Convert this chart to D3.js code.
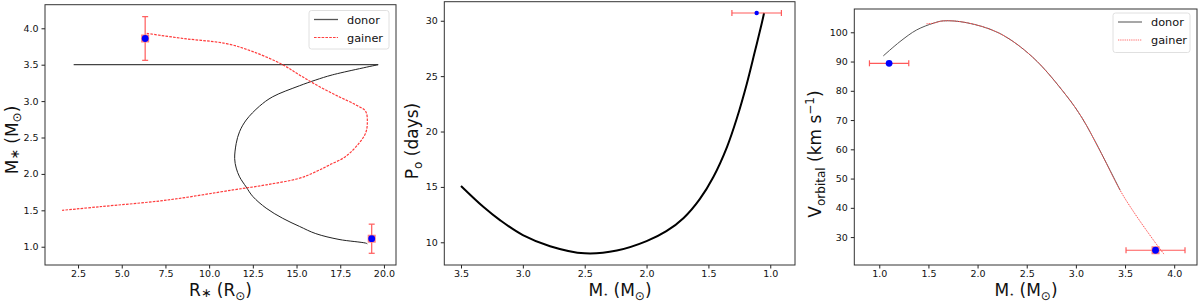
<!DOCTYPE html>
<html>
<head>
<meta charset="utf-8">
<script src="https://cdn.jsdelivr.net/npm/d3@7"></script>
<style>
  body { margin: 0; background: #fff; }
  svg text { font-family: "DejaVu Sans", sans-serif; fill: #111; }
</style>
</head>
<body>
<div id="chart"></div>
<script>
// ---- panel 1 : mass vs radius
var donorFlatR = [2.25, 19.67];
var donorFlatM = [3.5, 3.5];
var donorR = [19.67, 17.05, 16.1, 15.16, 13.64, 12.88, 12.12, 11.74, 11.55, 11.46, 11.55, 11.74, 12.12, 12.5, 13.26, 14.21, 15.16, 16.1, 17.43, 18.95, 19.05];
var donorM = [3.5, 3.36, 3.29, 3.21, 3.06, 2.93, 2.74, 2.58, 2.42, 2.21, 2.08, 1.96, 1.82, 1.69, 1.53, 1.39, 1.28, 1.18, 1.10, 1.05, 1.04];
var gainerR = [6.43, 8.52, 10.98, 12.5, 14.21, 15.16, 16.3, 17.43, 18.38, 18.95, 19.05, 18.95, 18.57, 17.81, 16.86, 16.1, 15.16, 13.26, 11.36, 7.57, 3.77, 1.59];
var gainerM = [3.93, 3.86, 3.79, 3.68, 3.50, 3.36, 3.20, 3.06, 2.95, 2.86, 2.70, 2.56, 2.42, 2.24, 2.12, 2.03, 1.94, 1.85, 1.78, 1.64, 1.55, 1.50];
var obsR = [6.34, 19.3];
var obsM = [3.86, 1.11];
var obsMerr = [0.3, 0.2];
var p1xTicks = [2.5, 5.0, 7.5, 10.0, 12.5, 15.0, 17.5, 20.0];
var p1yTicks = [1.0, 1.5, 2.0, 2.5, 3.0, 3.5, 4.0];

// ---- panel 2 : orbital period vs donor mass
var periodM = [3.5, 3.32, 3.185, 3.0, 2.78, 2.5, 2.24, 2.0, 1.84, 1.70, 1.57, 1.46, 1.35, 1.27, 1.19, 1.125, 1.07, 1.05];
var periodP = [15.08, 13.2, 12.0, 10.65, 9.65, 9.0, 9.25, 10.1, 11.0, 12.2, 13.9, 15.9, 18.6, 21.2, 24.3, 27.2, 29.7, 30.7];
var obsPM = [1.11];
var obsP = [30.7];
var obsPMerr = [0.2];
var p2xTicks = [3.5, 3.0, 2.5, 2.0, 1.5, 1.0];
var p2yTicks = [10, 15, 20, 25, 30];

// ---- panel 3 : orbital velocity vs mass
var velDonorM = [1.04, 1.21, 1.38, 1.55, 1.65, 1.885, 2.22, 2.56, 2.90, 3.065, 3.23, 3.45];
var velDonorV = [91.9, 96.8, 100.8, 103.1, 103.9, 103.3, 99.7, 91.5, 78.5, 70.6, 60.5, 46.0];
var velGainerM = [1.48, 1.55, 1.65, 1.885, 2.22, 2.56, 2.90, 3.065, 3.23, 3.45, 3.59, 3.81, 3.90];
var velGainerV = [102.9, 103.1, 103.9, 103.3, 99.7, 91.5, 78.5, 70.6, 60.5, 46.0, 38.5, 28.0, 24.0];
var obsVM = [1.10, 3.81];
var obsV = [89.4, 25.5];
var obsVMerr = [0.2, 0.3];
var p3xTicks = [1.0, 1.5, 2.0, 2.5, 3.0, 3.5, 4.0];
var p3yTicks = [30, 40, 50, 60, 70, 80, 90, 100];

var width = 1200, height = 302;
var svg = d3.select("#chart").append("svg")
    .attr("width", width).attr("height", height)
    .style("background", "#fff");

// builds the frame, axes and returns scales
function makePanel(box, xDom, yDom, xTicks, yTicks, xFmt, yFmt) {
    var x = d3.scaleLinear().domain(xDom).range([box.left, box.right]);
    var y = d3.scaleLinear().domain(yDom).range([box.bottom, box.top]);
    var g = svg.append("g");
    g.append("defs").append("clipPath").attr("id", box.id)
        .append("rect").attr("x", box.left).attr("y", box.top)
        .attr("width", box.right - box.left).attr("height", box.bottom - box.top);
    var xa = g.append("g").attr("transform", "translate(0," + box.bottom + ")")
        .call(d3.axisBottom(x).tickValues(xTicks).tickFormat(d3.format(xFmt)).tickSize(3.5).tickPadding(2));
    var ya = g.append("g").attr("transform", "translate(" + box.left + ",0)")
        .call(d3.axisLeft(y).tickValues(yTicks).tickFormat(d3.format(yFmt)).tickSize(3.5).tickPadding(3));
    [xa, ya].forEach(function(a) {
        a.select(".domain").remove();
        a.selectAll("line").attr("stroke", "#222");
        a.selectAll("text").style("font-size", "9.5px").attr("fill", "#111");
    });
    var plot = g.append("g").attr("clip-path", "url(#" + box.id + ")");
    g.append("rect").attr("x", box.left).attr("y", box.top)
        .attr("width", box.right - box.left).attr("height", box.bottom - box.top)
        .attr("fill", "none").attr("stroke", "#333").attr("stroke-width", 1);
    return {x: x, y: y, plot: plot, g: g};
}

function drawLine(p, xs, ys, color, w, dash) {
    var line = d3.line()
        .x(function(i) { return p.x(xs[i]); })
        .y(function(i) { return p.y(ys[i]); })
        .curve(d3.curveCatmullRom.alpha(0.5));
    p.plot.append("path").datum(d3.range(xs.length))
        .attr("d", line).attr("fill", "none")
        .attr("stroke", color).attr("stroke-width", w)
        .attr("stroke-dasharray", dash || null);
}

function errorBars(p, xs, ys, err, horiz) {
    var cap = 3;
    var eb = p.g.append("g").attr("stroke", "#ff5a5a").attr("stroke-width", 1.2);
    xs.forEach(function(v, i) {
        if (horiz) {
            var x1 = p.x(v - err[i]), x2 = p.x(v + err[i]), yy = p.y(ys[i]);
            eb.append("line").attr("x1", x1).attr("x2", x2).attr("y1", yy).attr("y2", yy);
            eb.append("line").attr("x1", x1).attr("x2", x1).attr("y1", yy - cap).attr("y2", yy + cap);
            eb.append("line").attr("x1", x2).attr("x2", x2).attr("y1", yy - cap).attr("y2", yy + cap);
        } else {
            var y1 = p.y(ys[i] - err[i]), y2 = p.y(ys[i] + err[i]), xx = p.x(v);
            eb.append("line").attr("x1", xx).attr("x2", xx).attr("y1", y1).attr("y2", y2);
            eb.append("line").attr("x1", xx - cap).attr("x2", xx + cap).attr("y1", y1).attr("y2", y1);
            eb.append("line").attr("x1", xx - cap).attr("x2", xx + cap).attr("y1", y2).attr("y2", y2);
        }
    });
}

function markers(p, xs, ys, r, square) {
    xs.forEach(function(v, i) {
        if (square) {
            p.g.append("rect").attr("x", p.x(v) - 4).attr("y", p.y(ys[i]) - 4)
                .attr("width", 8).attr("height", 8).attr("fill", "#ff8080");
        }
        p.g.append("circle").attr("cx", p.x(v)).attr("cy", p.y(ys[i])).attr("r", r)
            .attr("fill", "#0000ff");
    });
}

function legend(box, items) {
    var lg = svg.append("g");
    lg.append("rect").attr("x", box.x).attr("y", box.y).attr("width", box.w).attr("height", box.h)
        .attr("rx", 2.5).attr("fill", "#fff").attr("stroke", "#d8d8d8").attr("stroke-width", 0.8);
    items.forEach(function(it, i) {
        var yy = box.y + 9 + i * 18;
        lg.append("line").attr("x1", box.x + 5).attr("x2", box.x + 29).attr("y1", yy).attr("y2", yy)
            .attr("stroke", it.color).attr("stroke-width", it.w).attr("stroke-dasharray", it.dash || null);
        lg.append("text").attr("x", box.x + 38).attr("y", yy + 4).style("font-size", "11.3px").text(it.label);
    });
}

// label with sub/superscript pieces: [text, kind]
function label(x, y, parts, rotate) {
    var t = svg.append("text").attr("text-anchor", "middle").style("font-size", "17px")
        .attr("transform", "translate(" + x + "," + y + ")" + (rotate ? " rotate(-90)" : ""));
    var shift = 0;
    parts.forEach(function(p) {
        var s = t.append("tspan").text(p[0]);
        var want = 0;
        if (p[1] === "sub") { s.style("font-size", "12px"); want = 3.5; }
        else if (p[1] === "sup") { s.style("font-size", "12px"); want = -7; }
        else if (p[1] === "ast") { s.style("font-size", "12.5px"); want = 1; }
        else if (p[1] === "star") { s.style("font-size", "8px"); want = 1; }
        s.attr("dy", want - shift);
        shift = want;
    });
}

// ---- panel 1
var p1 = makePanel({id: "c1", left: 45, right: 396, top: 4.7, bottom: 265},
    [0.61, 20.69], [0.749, 4.324], p1xTicks, p1yTicks, ".1f", ".1f");
drawLine(p1, donorFlatR, donorFlatM, "#444", 1.3);
drawLine(p1, donorR, donorM, "#222", 1);
drawLine(p1, gainerR, gainerM, "#ff3b3b", 1.2, "2.6,1.2");
errorBars(p1, obsR, obsM, obsMerr, false);
markers(p1, obsR, obsM, 3.4, true);
legend({x: 309, y: 10.5, w: 80, h: 38.5}, [
    {label: "donor", color: "#555", w: 1.3},
    {label: "gainer", color: "#ff4040", w: 1.2, dash: "2.6,1.2"}
]);
label(220.5, 296, [["R", ""], ["∗", "ast"], [" (R", ""], ["⊙", "sub"], [")", ""]], false);
label(17.5, 140, [["M", ""], ["∗", "ast"], [" (M", ""], ["⊙", "sub"], [")", ""]], true);

// ---- panel 2
var p2 = makePanel({id: "c2", left: 444.3, right: 795, top: 1.7, bottom: 265},
    [3.635, 0.80], [7.95, 31.72], p2xTicks, p2yTicks, ".1f", "d");
drawLine(p2, periodM, periodP, "#000", 2);
errorBars(p2, obsPM, obsP, obsPMerr, true);
markers(p2, obsPM, obsP, 2.2, false);
label(620, 296, [["M", ""], ["⋆", "star"], [" (M", ""], ["⊙", "sub"], [")", ""]], false);
label(418, 141, [["P", ""], ["o", "sub"], [" (days)", ""]], true);

// ---- panel 3
var p3 = makePanel({id: "c3", left: 854.3, right: 1197, top: 9, bottom: 265},
    [0.746, 4.232], [20.46, 107.96], p3xTicks, p3yTicks, ".1f", "d");
drawLine(p3, velDonorM, velDonorV, "#555", 1);
drawLine(p3, velGainerM, velGainerV, "#ff5050", 1, "1.3,0.9");
errorBars(p3, obsVM, obsV, obsVMerr, true);
markers(p3, [obsVM[1]], [obsV[1]], 0.1, true);
markers(p3, obsVM, obsV, 3.4, false);
legend({x: 1113, y: 13, w: 77, h: 39.5}, [
    {label: "donor", color: "#777", w: 1.3},
    {label: "gainer", color: "#ff7070", w: 1, dash: "1.3,0.9"}
]);
label(1026, 296, [["M", ""], ["⋆", "star"], [" (M", ""], ["⊙", "sub"], [")", ""]], false);
label(821, 154, [["V", ""], ["orbital", "sub"], [" (km s", ""], ["−1", "sup"], [")", ""]], true);
</script>
</body>
</html>
